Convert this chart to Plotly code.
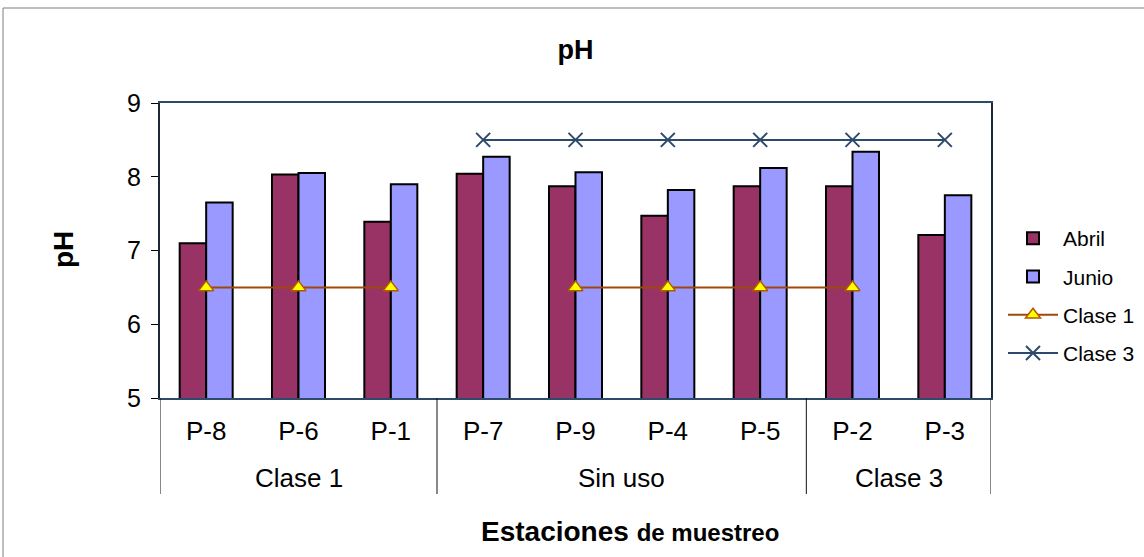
import plotly.graph_objects as go

groups = ["Clase 1", "Clase 1", "Clase 1", "Sin uso", "Sin uso", "Sin uso", "Sin uso", "Clase 3", "Clase 3"]
stations = ["P-8", "P-6", "P-1", "P-7", "P-9", "P-4", "P-5", "P-2", "P-3"]
abril = [7.10, 8.03, 7.39, 8.04, 7.87, 7.47, 7.87, 7.87, 7.21]
junio = [7.65, 8.05, 7.90, 8.27, 8.06, 7.82, 8.12, 8.34, 7.75]
clase1 = [6.5, 6.5, 6.5, None, 6.5, 6.5, 6.5, 6.5, None]
clase3 = [None, None, None, 8.5, 8.5, 8.5, 8.5, 8.5, 8.5]
y_ticks = [5, 6, 7, 8, 9]

W, H = 1144, 557
L, R, T, B = 160, 991, 103, 398

def px(x):
    return (x - L) / (R - L)

def py(y):
    return (B - y) / (B - T)

FONT = "Liberation Sans, Arial, sans-serif"

fig = go.Figure()
fig.add_trace(go.Bar(x=stations, y=abril, name="Abril", marker=dict(color="#993366", line=dict(color="black", width=2)), legendgroup="a"))
fig.add_trace(go.Bar(x=stations, y=junio, name="Junio", marker=dict(color="#9999FF", line=dict(color="black", width=2)), legendgroup="b"))
fig.add_trace(go.Scatter(x=stations, y=clase1, name="Clase 1", mode="lines+markers", connectgaps=False,
                         line=dict(color="#A0480A", width=2),
                         marker=dict(symbol="triangle-up", size=13, color="#FFFF00", line=dict(color="#B35A00", width=1.5)),
                         legendgroup="c"))
fig.add_trace(go.Scatter(x=stations, y=clase3, name="Clase 3", mode="lines+markers", connectgaps=False,
                         line=dict(color="#2E4A6B", width=2),
                         marker=dict(symbol="x-thin", size=14, color="#2E4A6B", line=dict(color="#2E4A6B", width=2)),
                         legendgroup="d"))

# group separators and group labels (derived from the groups list)
shapes = [
    dict(type="line", xref="paper", yref="paper", x0=px(3), x1=px(1200), y0=py(8), y1=py(8), line=dict(color="#7f7f7f", width=1)),
    dict(type="line", xref="paper", yref="paper", x0=px(3), x1=px(3), y0=py(8), y1=py(600), line=dict(color="#7f7f7f", width=1)),
]
annotations = []
bounds = [0]
for i in range(1, len(groups)):
    if groups[i] != groups[i - 1]:
        bounds.append(i)
bounds.append(len(groups))
for b in bounds:
    shapes.append(dict(type="line", xref="x", yref="paper", x0=b - 0.5, x1=b - 0.5, y0=0, y1=py(494),
                       line=dict(color="#111111", width=1)))
for a, b in zip(bounds[:-1], bounds[1:]):
    annotations.append(dict(text=groups[a], xref="x", yref="paper", x=(a + b - 1) / 2, y=py(478),
                            xanchor="center", yanchor="middle", showarrow=False, font=dict(size=26, family=FONT)))

annotations += [
    dict(text='<b>Estaciones <span style="font-size:24px">de muestreo</span></b>', xref="paper", yref="paper",
         x=px(630), y=py(531), xanchor="center", yanchor="middle", showarrow=False, font=dict(size=28, family=FONT)),
    dict(text="<b>pH</b>", xref="paper", yref="paper", x=px(63), y=py(250), xanchor="center", yanchor="middle",
         textangle=-90, showarrow=False, font=dict(size=28, family=FONT)),
]

fig.update_layout(
    width=W, height=H,
    margin=dict(l=L, r=W - R, t=T, b=H - B, autoexpand=False),
    paper_bgcolor="white", plot_bgcolor="white",
    font=dict(family=FONT, color="black", size=24),
    title=dict(text="<b>pH</b>", x=0.5, xanchor="center", xref="paper", y=1 - 50 / H, yanchor="middle", yref="container",
               font=dict(size=27, family=FONT, color="black")),
    barmode="group", bargap=0.426, bargroupgap=0,
    showlegend=True,
    legend=dict(x=px(1003), y=py(218), xanchor="left", yanchor="top", font=dict(size=21, family=FONT),
                traceorder="grouped", tracegroupgap=8, itemwidth=50, bgcolor="rgba(0,0,0,0)"),
    xaxis=dict(type="category", showline=True, linecolor="#2E4A6B", linewidth=2, mirror=True,
               showgrid=False, ticks="", tickfont=dict(size=26, family=FONT), ticklabelstandoff=9,
               zeroline=False, range=[-0.5, len(stations) - 0.5]),
    yaxis=dict(range=[5, 9], tickvals=y_ticks, showline=True, linecolor="#1b2838", linewidth=2, mirror=True,
               showgrid=False, ticks="outside", ticklen=7, tickcolor="black", tickwidth=1,
               tickfont=dict(size=25, family=FONT), ticklabelstandoff=5, zeroline=False),
    shapes=shapes,
    annotations=annotations,
)

fig.write_html("out.html", config={"displayModeBar": False}, post_script="document.body.style.margin='0';")
